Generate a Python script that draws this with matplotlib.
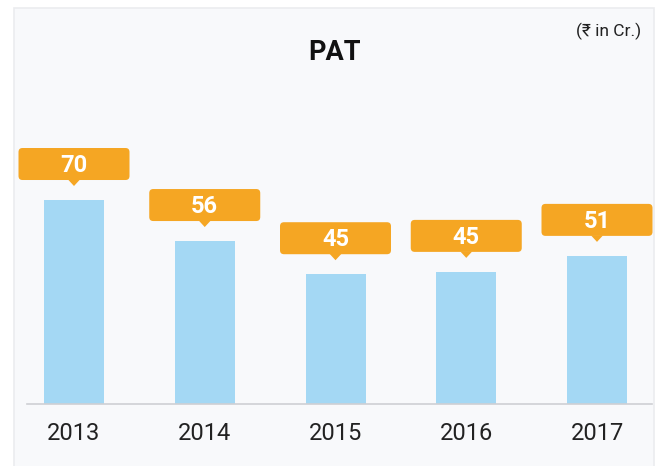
import matplotlib
matplotlib.use("Agg")
import matplotlib.pyplot as plt
import matplotlib.patches as mpatches
import matplotlib.transforms as mtransforms

years = ["2013", "2014", "2015", "2016", "2017"]
pat_values = [70.1, 56.0, 44.6, 45.4, 50.9]
pat_labels = ["70", "56", "45", "45", "51"]
title = "PAT"
unit_note = "(₹ in Cr.)"

BAR = "#a4d8f4"
ORANGE = "#f5a623"
PANEL = "#f8f9fb"

W, H = 656, 466
fig = plt.figure(figsize=(W / 100, H / 100), dpi=100)
fig.patch.set_facecolor("white")

# panel background
panel = mpatches.Rectangle((14 / W, -0.01), (654 - 14) / W, (H - 8) / H + 0.01,
                           transform=fig.transFigure, facecolor=PANEL,
                           edgecolor="#ebecef", linewidth=1.2, zorder=-5)
fig.patches.append(panel)

# axes: baseline at y=404 px, 2.91 px per unit
left_px, right_px = 27, 652
base_px = 404
ppu = 2.91
ymax = 100
ax_h = ymax * ppu
ax = fig.add_axes([left_px / W, (H - base_px) / H, (right_px - left_px) / W, ax_h / H])
ax.set_facecolor("none")
ax.set_zorder(2)

spacing = 130.75
x0_off = (74 - left_px) / spacing
ax.set_xlim(-x0_off, -x0_off + (right_px - left_px) / spacing)
ax.set_ylim(0, ymax)

xs = list(range(len(years)))
ax.bar(xs, pat_values, width=60 / spacing, color=BAR, zorder=2)

for s in ["top", "right", "left"]:
    ax.spines[s].set_visible(False)
ax.spines["bottom"].set_color("#cfd0d4")
ax.spines["bottom"].set_linewidth(1.2)
ax.set_yticks([])
ax.set_xticks(xs)
ax.set_xticklabels(years, fontsize=17, color="#222222", family=["Roboto", "DejaVu Sans"])
ax.tick_params(axis="x", length=0, pad=13)

# callout labels
for x, v, lab in zip(xs, pat_values, pat_labels):
    tr = mtransforms.Affine2D() + mtransforms.ScaledTranslation(x, v, ax.transData)
    box = mpatches.FancyBboxPatch((-55.5, 20), 111, 32,
                                  boxstyle="round,pad=0,rounding_size=4",
                                  facecolor=ORANGE, edgecolor="none",
                                  transform=tr, clip_on=False, zorder=3)
    ax.add_patch(box)
    tri = mpatches.Polygon([(-6, 20.5), (6, 20.5), (0, 14)], closed=True,
                           facecolor=ORANGE, edgecolor="none",
                           transform=tr, clip_on=False, zorder=3)
    ax.add_patch(tri)
    ax.text(0, 28, lab, transform=tr, ha="center", va="baseline",
            fontsize=17, fontweight="bold", color="white",
            family=["Roboto", "DejaVu Sans"], zorder=4, clip_on=False)

fig.text(335 / W, 1 - 60 / H, title, ha="center", va="baseline",
         fontsize=19.5, fontweight="bold", color="#111111",
         family=["Roboto", "DejaVu Sans"])
fig.text(641 / W, 1 - 31 / H, unit_note, ha="right", va="center",
         fontsize=12.5, color="#222222", family=["Roboto", "DejaVu Sans"])

fig.savefig("out.png", dpi=100, facecolor=fig.get_facecolor())
